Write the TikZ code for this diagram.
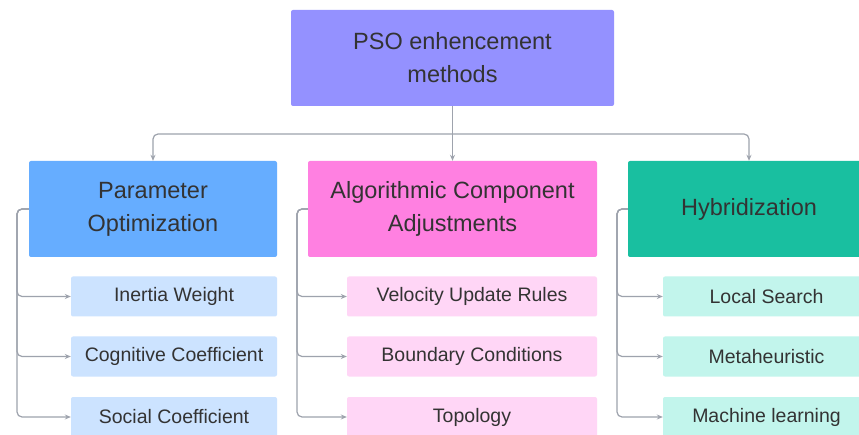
\documentclass[tikz,border=0pt]{standalone}
\usepackage{fontspec}
\setmainfont{Liberation Sans}
\usetikzlibrary{arrows.meta}
\definecolor{txt}{HTML}{333333}
\definecolor{topc}{HTML}{9491FF}
\definecolor{bluec}{HTML}{66ADFF}
\definecolor{pinkc}{HTML}{FF80E1}
\definecolor{greenc}{HTML}{19BFA0}
\definecolor{bluel}{HTML}{CCE3FF}
\definecolor{pinkl}{HTML}{FFD6F6}
\definecolor{greenl}{HTML}{C2F5EC}
\definecolor{linec}{HTML}{9EA3AD}
\tikzset{
  head/.style={rounded corners=2pt, inner sep=0pt, text=txt, align=center,
    font=\fontsize{23.5}{33}\selectfont, minimum height=96pt},
  sub/.style={rounded corners=2pt, inner sep=0pt, text=txt, align=center,
    font=\fontsize{19.5}{23}\selectfont, minimum height=40pt},
  conn/.style={draw=linec, line width=1.2pt, rounded corners=5pt,
    -{Stealth[length=6pt,width=5pt]}},
  plain/.style={draw=linec, line width=1.2pt, rounded corners=4pt}
}
\begin{document}
\begin{tikzpicture}[x=1pt,y=-1pt]
\useasboundingbox (0,0) rectangle (859,435);
\clip (0,0) rectangle (859,435);
\fill[white] (0,0) rectangle (859,435);
% main nodes
\node[head, fill=topc, minimum width=323pt] (top) at (452.5,58) {PSO enhencement\\methods};
\node[head, fill=bluec, minimum width=248pt] (A) at (153,209) {Parameter\\Optimization};
\node[head, fill=pinkc, minimum width=289pt] (B) at (452.5,209) {Algorithmic Component\\Adjustments};
\node[head, fill=greenc, minimum width=242pt] (C) at (749,209) {Hybridization};
% sub nodes
\node[sub, fill=bluel, minimum width=206pt] (A1) at (174,296.5) {Inertia Weight};
\node[sub, fill=bluel, minimum width=206pt] (A2) at (174,356.5) {Cognitive Coefficient};
\node[sub, fill=bluel, minimum width=206pt] (A3) at (174,417) {Social Coefficient};
\node[sub, fill=pinkl, minimum width=250pt] (B1) at (472,296.5) {Velocity Update Rules};
\node[sub, fill=pinkl, minimum width=250pt] (B2) at (472,356.5) {Boundary Conditions};
\node[sub, fill=pinkl, minimum width=250pt] (B3) at (472,417) {Topology};
\node[sub, fill=greenl, minimum width=207pt] (C1) at (766.5,296.5) {Local Search};
\node[sub, fill=greenl, minimum width=207pt] (C2) at (766.5,356.5) {Metaheuristic};
\node[sub, fill=greenl, minimum width=207pt] (C3) at (766.5,417) {Machine learning};
% top connectors
\coordinate (hub) at (452.5,134);
\draw[plain] (top.south) -- (hub);
\draw[conn] (hub) -| (A.north);
\draw[conn] (hub) -- (B.north);
\draw[conn] (hub) -| (C.north);
% side connectors
\foreach \p/\x in {A/17,B/297,C/617}{
  \foreach \i in {1,2,3}{
    \draw[conn] (\p.west) -| (\x,250) |- (\p\i.west);
  }
}
\end{tikzpicture}
\end{document}
